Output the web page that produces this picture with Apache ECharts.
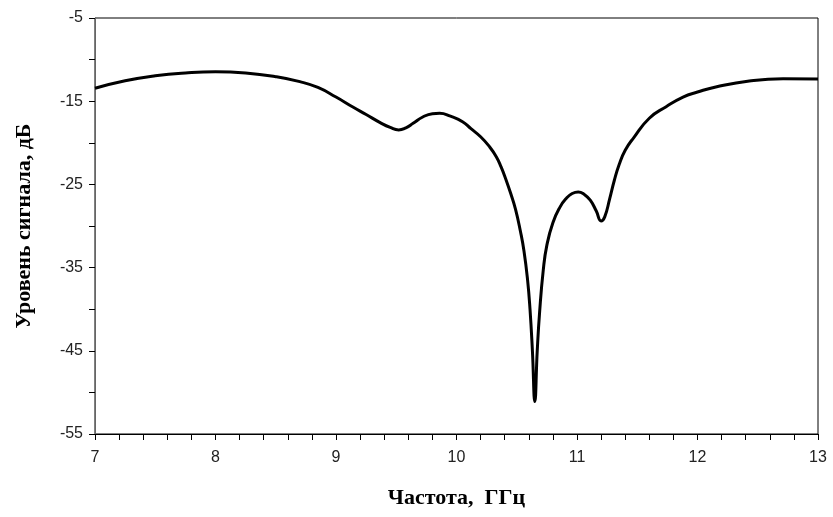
<!DOCTYPE html>
<html>
<head>
<meta charset="utf-8">
<script src="https://cdn.jsdelivr.net/npm/echarts@6/dist/echarts.min.js"></script>
<style>
  html, body { margin: 0; padding: 0; background: #fff; }
  #app { width: 833px; height: 517px; }
</style>
</head>
<body>
<div id="app"></div>
<script>
  // частота, ГГц
  const freq = [
    7.0, 7.25, 7.5, 7.75, 8.0, 8.25, 8.5, 8.7, 8.85, 9.0,
    9.14, 9.25, 9.37, 9.45, 9.52, 9.58, 9.64, 9.72, 9.8, 9.86,
    9.95, 10.05, 10.12, 10.2, 10.27, 10.33, 10.37, 10.41, 10.45, 10.49,
    10.53, 10.56, 10.59, 10.61, 10.63, 10.65, 10.67, 10.69, 10.72, 10.75,
    10.8, 10.86, 10.91, 10.96, 11.01, 11.06, 11.11, 11.16, 11.2, 11.23,
    11.27, 11.31, 11.35, 11.4, 11.47, 11.6, 11.74, 11.88, 12.0, 12.16,
    12.43, 12.71, 13.0
  ];
  // уровень сигнала, дБ
  const level = [
    -13.45, -12.55, -11.95, -11.6, -11.45, -11.6, -12.05, -12.65, -13.35, -14.5,
    -15.7, -16.6, -17.6, -18.15, -18.45, -18.2, -17.66, -16.9, -16.5, -16.45,
    -16.8, -17.46, -18.3, -19.27, -20.4, -21.67, -22.9, -24.4, -26.1, -28.0,
    -30.6, -33.0, -36.5, -40.0, -45, -51.1, -45, -40.3, -35.3, -32.3,
    -29.6, -27.7, -26.7, -26.1, -25.9, -26.2, -26.9, -28.2, -29.4, -28.9,
    -26.8, -24.5, -22.6, -20.9, -19.4, -17.05, -15.66, -14.5, -13.9, -13.26,
    -12.57, -12.3, -12.33
  ];

  const points = freq.map((f, i) => [f, level[i]]);

  const dom = document.getElementById("app");
  const myChart = echarts.init(dom);
  const option = {
    animation: false,
    grid: {
      left: 95,
      right: 15,
      top: 18,
      bottom: 83,
      show: true,
      borderColor: "#000",
      borderWidth: 1,
    },
    xAxis: {
      type: "value",
      min: 7,
      max: 13,
      interval: 1,
      name: "Частота,  ГГц",
      nameLocation: "middle",
      nameGap: 53,
      nameTextStyle: {
        fontFamily: "Liberation Serif",
        fontWeight: "bold",
        fontSize: 22,
        color: "#000",
      },
      axisLine: { lineStyle: { color: "#000", width: 1 } },
      axisTick: { length: 6, lineStyle: { color: "#000" } },
      minorTick: { show: true, splitNumber: 5, length: 6, lineStyle: { color: "#000" } },
      axisLabel: {
        fontFamily: "Liberation Sans",
        fontSize: 16,
        color: "#222",
        margin: 16,
      },
      splitLine: { show: false },
    },
    yAxis: {
      type: "value",
      min: -55,
      max: -5,
      interval: 10,
      name: "Уровень сигнала, дБ",
      nameLocation: "middle",
      nameGap: 60,
      nameTextStyle: {
        fontFamily: "Liberation Serif",
        fontWeight: "bold",
        fontSize: 22,
        color: "#000",
      },
      axisLine: { show: true, lineStyle: { color: "#666", width: 1 } },
      axisTick: { show: true, length: 6, lineStyle: { color: "#000" } },
      minorTick: { show: true, splitNumber: 2, length: 6, lineStyle: { color: "#000" } },
      axisLabel: {
        fontFamily: "Liberation Sans",
        fontSize: 16,
        color: "#222",
        margin: 12,
      },
      splitLine: { show: false },
    },
    series: [
      {
        type: "line",
        data: points,
        smooth: 0.5,
        showSymbol: false,
        lineStyle: { color: "#000", width: 3 },
      },
    ],
  };
  myChart.setOption(option);
</script>
</body>
</html>
